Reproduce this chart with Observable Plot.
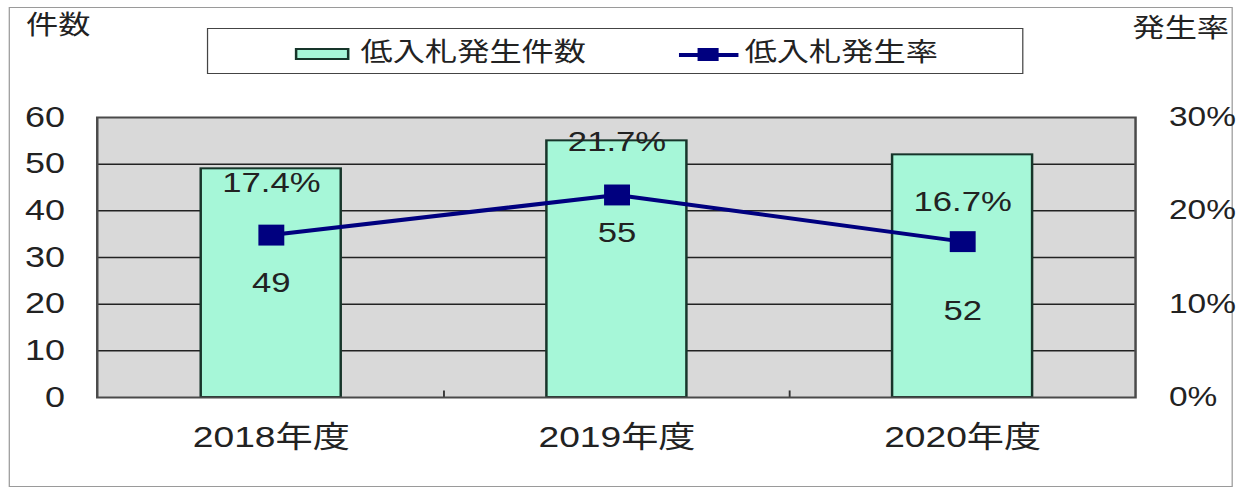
<!DOCTYPE html>
<html>
<head>
<meta charset="utf-8">
<script src="https://cdn.jsdelivr.net/npm/d3@7"></script>
<script src="https://cdn.jsdelivr.net/npm/@observablehq/plot@0.6"></script>
<style>
  html, body { margin: 0; padding: 0; background: #fff; overflow: hidden; }
  #fig {
    position: relative; width: 1000px; height: 492px;
    transform: scaleX(1.239); transform-origin: 0 0;
    font-family: "Liberation Sans", "Noto Sans CJK JP", sans-serif; color: #222;
  }
  .abs { position: absolute; line-height: 1; white-space: nowrap; }
  #border { left: 7px; top: 7px; width: 988px; height: 480px; border: 1.5px solid #9a9a9a; box-sizing: border-box; }
  #legend { left: 167px; top: 28px; width: 659px; height: 46px; border: 1.5px solid #444; box-sizing: border-box; background: #fff; }
  #chart { position: absolute; left: 0; top: 0; }
</style>
</head>
<body>
<div id="fig">
  <div id="border" class="abs"></div>
  <div class="abs" id="ylabL" style="left:21px; top:12px; font-size:26px;"></div>
  <div class="abs" id="ylabR" style="left:914px; top:15px; font-size:26px;"></div>
  <div id="chart"></div>
  <div id="legend" class="abs"></div>
</div>
<script>
// ---- data ----
const years = ["2018年度", "2019年度", "2020年度"];
const counts = [49, 55, 52];
const rates = [17.4, 21.7, 16.7];
const countTicks = [0, 10, 20, 30, 40, 50, 60];
const rateTicks = [0, 10, 20, 30];
const seriesNames = ["低入札発生件数", "低入札発生率"];
const axisTitles = ["件数", "発生率"];

// ---- layout (label offsets in px) ----
const pctDy = [-52, -53, -40];
const cntDy = [48, 38, 69];
const R = countTicks[countTicks.length - 1] / rateTicks[rateTicks.length - 1];

const barFill = "#a6f7d8";
const barStroke = "#17352a";
const lineColor = "#00007f";

const data = years.map((year, i) => ({year, count: counts[i], rate: rates[i]}));

document.getElementById("ylabL").textContent = axisTitles[0];
document.getElementById("ylabR").textContent = axisTitles[1];

const W = 1000, H = 492, mL = 78, mR = 84, mT = 117, mB = 95;
const step = (W - mL - mR) / years.length;

const chart = Plot.plot({
  width: W, height: H,
  marginLeft: mL, marginRight: mR, marginTop: mT, marginBottom: mB,
  style: {fontFamily: '"Liberation Sans", "Noto Sans CJK JP", sans-serif', fontSize: "29px", color: "#222", background: "transparent", overflow: "visible"},
  x: {type: "band", domain: years, padding: 0, label: null, axis: null},
  y: {domain: [0, 60], label: null, axis: null},
  marks: [
    Plot.frame({fill: "#d9d9d9"}),
    Plot.ruleY(countTicks.slice(1, -1), {stroke: "#222", strokeWidth: 1.5}),
    Plot.ruleX(years.slice(1), {x: d => d, dx: -step / 2, y1: 0, y2: 1.4, stroke: "#333", strokeWidth: 1.5}),
    Plot.barY(data, {x: "year", y: "count", fill: barFill, stroke: barStroke, strokeWidth: 2, insetLeft: 83, insetRight: 83}),
    Plot.frame({stroke: "#4a4a4a", strokeWidth: 2}),
    Plot.line(data, {x: "year", y: d => d.rate * R, stroke: lineColor, strokeWidth: 4}),
    Plot.dot(data, {x: "year", y: d => d.rate * R, symbol: "square", r: 11.8, fill: lineColor, stroke: "none"}),
    ...data.map((d, i) => Plot.text([d], {x: "year", y: d => d.rate * R, text: d => d.rate.toFixed(1) + "%", dy: pctDy[i], fontSize: 28, fill: "#222"})),
    ...data.map((d, i) => Plot.text([d], {x: "year", y: d => d.rate * R, text: d => String(d.count), dy: cntDy[i], fontSize: 28, fill: "#222"})),
    Plot.axisX({anchor: "bottom", tickSize: 0, tickPadding: 28, fontSize: 30, label: null}),
    Plot.axisY(countTicks, {anchor: "left", tickSize: 0, tickPadding: 26, fontSize: 29, label: null}),
    Plot.axisY(rateTicks.map(r => r * R), {anchor: "right", tickSize: 0, tickPadding: 27, fontSize: 27, label: null, tickFormat: v => (v / R) + "%"})
  ]
});
document.getElementById("chart").appendChild(chart);

// ---- legend ----
const legend = document.getElementById("legend");
legend.innerHTML = `
  <div class="abs" style="left:${237-167}px; top:${47-28}px; width:44px; height:12px; background:${barFill}; border:2px solid ${barStroke}; box-sizing:border-box;"></div>
  <div class="abs" style="left:${290-167}px; top:${38-28}px; font-size:26px;">${seriesNames[0]}</div>
  <div class="abs" style="left:${547-167}px; top:${52-28}px; width:48px; height:4px; background:${lineColor};"></div>
  <div class="abs" style="left:${562-167}px; top:${47-28}px; width:17px; height:13px; background:${lineColor};"></div>
  <div class="abs" style="left:${600-167}px; top:${38-28}px; font-size:26px;">${seriesNames[1]}</div>
`;
</script>
</body>
</html>
